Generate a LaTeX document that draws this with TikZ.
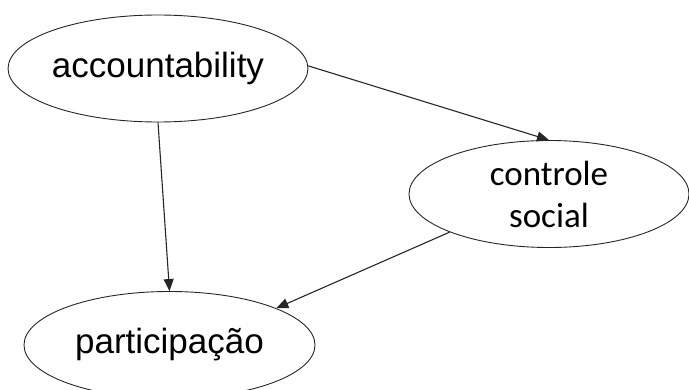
\documentclass[tikz,border=0pt]{standalone}
\usepackage{fontspec}
\setmainfont{Liberation Sans}
\newfontfamily\calib{Carlito}
\usetikzlibrary{shapes.geometric,arrows.meta}
\tikzset{
  oval/.style={ellipse, draw=black!85, line width=0.9pt, inner sep=0pt, font=\fontsize{35}{42}\selectfont},
  link/.style={draw=black!85, line width=1.1pt, -{Triangle[length=12pt,width=10pt]}}
}
\begin{document}
\begin{tikzpicture}[x=1pt,y=-1pt]
\useasboundingbox (0,0) rectangle (689,390);
\node[oval, minimum width=290pt, minimum height=107pt] (acc) at (158,68.5) {accountability};
\node[oval, minimum width=280pt, minimum height=107pt, align=center, font=\calib\fontsize{35}{42}\selectfont] (cs) at (549,194) {controle\\social};
\node[oval, minimum width=291pt, minimum height=107pt] (part) at (169.5,345) {participação};
\draw[link] (acc.1) -- (cs.north);
\draw[link] (acc.south) -- (part.north);
\draw[link] (cs.201) -- (part.19);
\end{tikzpicture}
\end{document}
